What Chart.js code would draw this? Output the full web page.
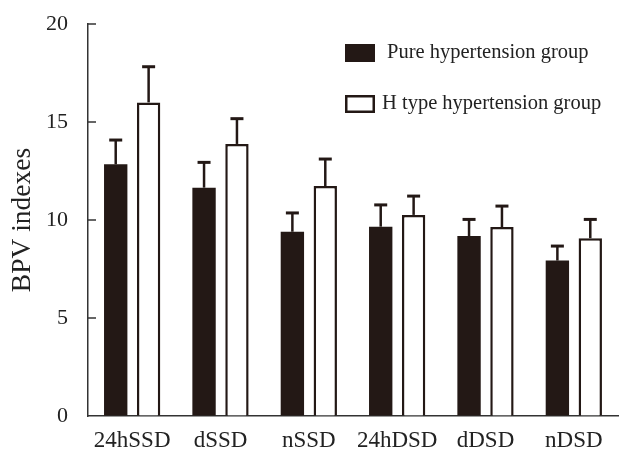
<!DOCTYPE html>
<html>
<head>
<meta charset="utf-8">
<script src="https://cdn.jsdelivr.net/npm/chart.js@4/dist/chart.umd.min.js"></script>
<style>
  html, body { margin: 0; padding: 0; background: #fff; }
  #wrap { width: 624px; height: 450px; }
</style>
</head>
<body>
<div id="wrap"><canvas id="c" width="624" height="450"></canvas></div>
<script>
const categories = ['24hSSD', 'dSSD', 'nSSD', '24hDSD', 'dDSD', 'nDSD'];
const seriesNames = ['Pure hypertension group', 'H type hypertension group'];
const pureMean = [12.84, 11.65, 9.40, 9.66, 9.18, 7.93];
const pureSD = [1.24, 1.29, 0.96, 1.11, 0.85, 0.74];
const hTypeMean = [16.00, 13.88, 11.73, 10.26, 9.64, 9.07];
const hTypeSD = [1.82, 1.29, 1.38, 0.96, 1.07, 0.96];
const yTicks = [0, 5, 10, 15, 20];
const yTitle = 'BPV indexes';

const INK = '#231815';
const TEXT = '#222222';
const FONT = "'Liberation Serif', 'Times New Roman', serif";

const errorBarPlugin = {
  id: 'errorBars',
  afterDatasetsDraw(chart) {
    const ctx = chart.ctx;
    const y = chart.scales.y;
    chart.data.datasets.forEach((ds, di) => {
      const meta = chart.getDatasetMeta(di);
      meta.data.forEach((bar, i) => {
        const top = y.getPixelForValue(ds.data[i]);
        const hi = y.getPixelForValue(ds.data[i] + ds.sd[i]);
        ctx.save();
        ctx.strokeStyle = INK;
        ctx.lineWidth = 2.5;
        ctx.beginPath();
        ctx.moveTo(bar.x, top);
        ctx.lineTo(bar.x, hi);
        ctx.stroke();
        ctx.lineWidth = 3;
        ctx.beginPath();
        ctx.moveTo(bar.x - 6.5, hi);
        ctx.lineTo(bar.x + 6.5, hi);
        ctx.stroke();
        ctx.restore();
      });
    });
  }
};

const innerTicksPlugin = {
  id: 'innerTicks',
  afterDraw(chart) {
    const ctx = chart.ctx;
    const y = chart.scales.y;
    const left = chart.chartArea.left;
    ctx.save();
    ctx.strokeStyle = '#333';
    ctx.lineWidth = 1.5;
    yTicks.forEach(v => {
      if (v === 0) return;
      const py = y.getPixelForValue(v);
      ctx.beginPath();
      ctx.moveTo(left, py);
      ctx.lineTo(left + 8, py);
      ctx.stroke();
    });
    ctx.restore();
  }
};

const legendPlugin = {
  id: 'customLegend',
  afterDraw(chart) {
    const ctx = chart.ctx;
    const rows = [53, 104];
    ctx.save();
    chart.data.datasets.forEach((ds, i) => {
      const cy = rows[i];
      ctx.fillStyle = ds.backgroundColor;
      ctx.fillRect(345, cy - 9, 30, 18);
      if (ds.borderWidth > 0) {
        ctx.strokeStyle = ds.borderColor;
        ctx.lineWidth = 2.5;
        ctx.strokeRect(346.25, cy - 7.75, 27.5, 15.5);
      }
      ctx.fillStyle = TEXT;
      ctx.font = "20.5px " + FONT;
      ctx.textBaseline = 'middle';
      ctx.textAlign = 'left';
      ctx.fillText(ds.label, i === 0 ? 387 : 382, cy);
    });
    ctx.restore();
  }
};

new Chart(document.getElementById('c'), {
  type: 'bar',
  data: {
    labels: categories,
    datasets: [
      {
        label: seriesNames[0],
        data: pureMean,
        sd: pureSD,
        backgroundColor: INK,
        borderColor: INK,
        borderWidth: 0
      },
      {
        label: seriesNames[1],
        data: hTypeMean,
        sd: hTypeSD,
        backgroundColor: '#ffffff',
        borderColor: INK,
        borderWidth: 2.5
      }
    ]
  },
  options: {
    responsive: false,
    devicePixelRatio: 1,
    animation: false,
    datasets: {
      bar: { categoryPercentage: 0.745, barPercentage: 0.71 }
    },
    layout: { padding: { top: 24, right: 6, left: 0, bottom: 0 } },
    plugins: {
      legend: { display: false },
      tooltip: { enabled: false }
    },
    scales: {
      x: {
        grid: { display: false, drawTicks: false },
        border: { display: true, color: '#333', width: 1.5 },
        ticks: { color: TEXT, font: { family: FONT, size: 23 }, padding: 11, maxRotation: 0, autoSkip: false },
        afterFit(scale) { scale.height = 34; }
      },
      y: {
        min: 0,
        max: 20,
        afterBuildTicks(scale) { scale.ticks = yTicks.map(v => ({ value: v })); },
        grid: { display: true, drawOnChartArea: false, drawTicks: true, tickLength: 20, tickColor: 'rgba(0,0,0,0)' },
        border: { display: true, color: '#333', width: 1.5 },
        ticks: { color: TEXT, font: { family: FONT, size: 22 }, padding: 0 },
        title: { display: true, text: yTitle, color: TEXT, font: { family: FONT, size: 27.5 }, padding: { top: 6, bottom: 0 } },
        afterFit(scale) { scale.width = 88; }
      }
    }
  },
  plugins: [errorBarPlugin, innerTicksPlugin, legendPlugin]
});
</script>
</body>
</html>
